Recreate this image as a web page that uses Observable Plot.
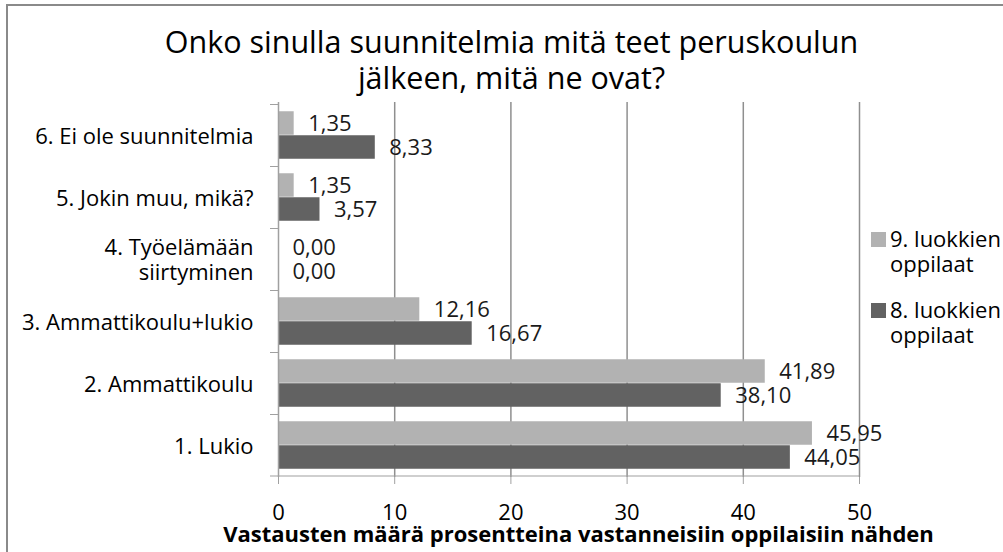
<!DOCTYPE html>
<html>
<head>
<meta charset="utf-8">
<script src="https://cdn.jsdelivr.net/npm/d3@7"></script>
<script src="https://cdn.jsdelivr.net/npm/@observablehq/plot@0.6"></script>
<style>
  html, body { margin: 0; padding: 0; background: #fff; }
  #chart { position: relative; width: 1003px; height: 552px; overflow: hidden; font-family: "Open Sans", sans-serif; color: #000; }
  #border { position: absolute; left: 6px; top: 4px; width: 1100px; height: 700px; border: 2px solid #8a8a8a; box-sizing: border-box; }
  #title { position: absolute; left: 9px; top: 23px; width: 1005px; text-align: center; font-size: 30.5px; line-height: 36px; }
  #plot { position: absolute; left: 0; top: 92px; }
  #xlabel { position: absolute; left: 78px; top: 528px; width: 1001px; text-align: center; font-size: 22px; font-weight: bold; line-height: 10px; }
  #legend { position: absolute; left: 870px; top: 226px; font-size: 22px; line-height: 25px; }
  .item { position: relative; height: 71px; }
  .sw { position: absolute; left: 1px; top: 6px; width: 15px; height: 15px; }
  .lab { position: absolute; left: 20px; top: 0; width: 112px; }
</style>
</head>
<body>
<div id="chart">
  <div id="border"></div>
  <div id="title"></div>
  <div id="plot"></div>
  <div id="xlabel"></div>
  <div id="legend"></div>
</div>
<script>
// ---- data ----
const titleLines = ["Onko sinulla suunnitelmia mitä teet peruskoulun", "jälkeen, mitä ne ovat?"];
const xLabel = "Vastausten määrä prosentteina vastanneisiin oppilaisiin nähden";
const categories = [
  "6. Ei ole suunnitelmia",
  "5. Jokin muu, mikä?",
  "4. Työelämään\nsiirtyminen",
  "3. Ammattikoulu+lukio",
  "2. Ammattikoulu",
  "1. Lukio"
];
const series = ["9. luokkien oppilaat", "8. luokkien oppilaat"];
const grade9 = [1.35, 1.35, 0.00, 12.16, 41.89, 45.95];
const grade8 = [8.33, 3.57, 0.00, 16.67, 38.10, 44.05];
const xTicks = [0, 10, 20, 30, 40, 50];
const colors = ["#b2b2b2", "#626262"];

// ---- layout ----
const W = 1003, H = 428;
const mT = 10, mB = 43, mL = 278, mR = 144;
const bw = (H - mT - mB) / categories.length;
const barH = 24;
const gap = bw / 2 - barH;
const axisGray = "#a0a0a0";

const fmt = d3.formatLocale({decimal: ",", thousands: "\u00a0", grouping: [3], currency: ["", "€"]}).format(".2f");

const rows9 = categories.map((c, i) => ({category: c, series: series[0], value: grade9[i]}));
const rows8 = categories.map((c, i) => ({category: c, series: series[1], value: grade8[i]}));

document.getElementById("title").innerHTML = titleLines.join("<br>");
document.getElementById("xlabel").textContent = xLabel;

const chart = Plot.plot({
  width: W,
  height: H,
  marginTop: mT,
  marginBottom: mB,
  marginLeft: mL,
  marginRight: mR,
  style: {fontFamily: "'Open Sans', sans-serif", fontSize: "22px", color: "#000", background: "transparent", overflow: "visible"},
  x: {domain: [xTicks[0], xTicks[xTicks.length - 1]]},
  y: {domain: categories, padding: 0},
  color: {domain: series, range: colors},
  marks: [
    Plot.ruleX(xTicks.filter(t => t > 0), {stroke: "#8f8f8f", strokeWidth: 1.5}),
    Plot.barX(rows9, {y: "category", x: "value", fill: "series", insetTop: gap, insetBottom: bw / 2}),
    Plot.barX(rows8, {y: "category", x: "value", fill: "series", insetTop: bw / 2, insetBottom: gap}),
    Plot.ruleX([0], {stroke: axisGray, strokeWidth: 1.5}),
    // category boundary ticks on the y axis
    Plot.barX(categories, {y: d => d, x1: 0, x2: 0, insetLeft: -8, insetTop: 0, insetBottom: bw - 1.5, fill: axisGray}),
    // bottom axis line
    Plot.barX(categories.slice(-1), {y: d => d, x1: xTicks[0], x2: xTicks[xTicks.length - 1], insetLeft: -8, insetTop: bw - 1, insetBottom: -0.5, fill: axisGray}),
    Plot.axisX({ticks: xTicks, tickSize: 7, tickPadding: 20, stroke: axisGray, fill: "#000", label: null, fontSize: 22}),
    Plot.axisY({tickSize: 0, tickPadding: 25, label: null, fill: "#000", fontSize: 22, lineHeight: 1.14}),
    Plot.text(rows9, {y: "category", x: "value", text: d => fmt(d.value), dx: 14, dy: -12, textAnchor: "start", fill: "#1a1a1a", fontSize: 22}),
    Plot.text(rows8, {y: "category", x: "value", text: d => fmt(d.value), dx: 14, dy: 12, textAnchor: "start", fill: "#1a1a1a", fontSize: 22})
  ]
});
document.getElementById("plot").appendChild(chart);

const legend = document.getElementById("legend");
series.forEach((s, i) => {
  const item = document.createElement("div");
  item.className = "item";
  const sw = document.createElement("div");
  sw.className = "sw";
  sw.style.background = colors[i];
  const lab = document.createElement("div");
  lab.className = "lab";
  lab.textContent = s;
  item.appendChild(sw);
  item.appendChild(lab);
  legend.appendChild(item);
});
</script>
</body>
</html>
